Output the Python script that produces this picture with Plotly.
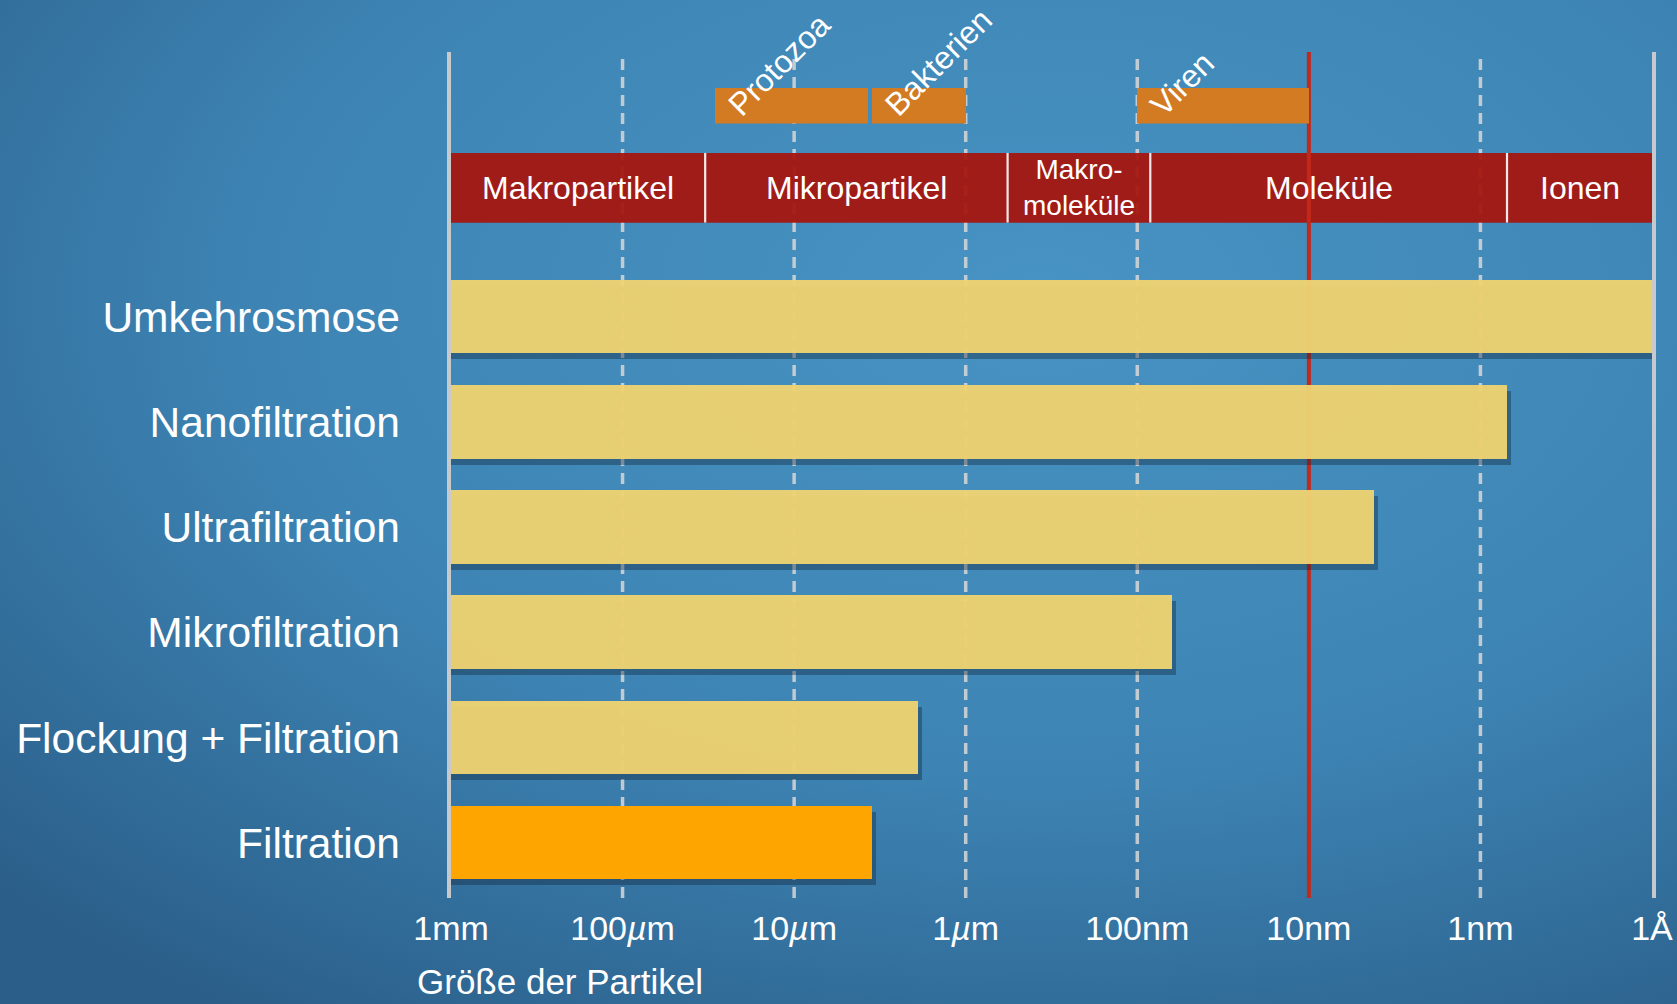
import base64
import numpy as np
import plotly.graph_objects as go

# ---------------- data ----------------
methods = ["Umkehrosmose", "Nanofiltration", "Ultrafiltration",
           "Mikrofiltration", "Flockung + Filtration", "Filtration"]
method_limit_m = [1.0e-10, 7.0e-10, 4.2e-9, 6.3e-8, 1.9e-6, 3.5e-6]
scale_start_m = 1e-3

band_names = ["Makropartikel", "Mikropartikel", "Makro-<br>moleküle", "Moleküle", "Ionen"]
band_from_m = [1e-3, 3.3e-5, 5.7e-7, 8.4e-8, 7.0e-10]
band_to_m = [3.3e-5, 5.7e-7, 8.4e-8, 7.0e-10, 1e-10]

organism_names = ["Protozoa", "Bakterien", "Viren"]
organism_from_m = [2.9e-5, 3.5e-6, 1.0e-7]
organism_to_m = [3.7e-6, 1.0e-6, 1.0e-8]

tick_values_m = [1e-3, 1e-4, 1e-5, 1e-6, 1e-7, 1e-8, 1e-9, 1e-10]
tick_labels = ["1mm", "100<i>µ</i>m", "10<i>µ</i>m", "1<i>µ</i>m",
               "100nm", "10nm", "1nm", "1Å"]
marker_line_m = 1e-8
axis_title = "Größe der Partikel"

# ---------------- layout geometry ----------------
W, H = 1677, 1004
ML, MR, MT, MB = 451, 25, 52, 106
PW, PH = W - ML - MR, H - MT - MB
BOTTOM = H - MB


def dom(top_px, bottom_px):
    return [(BOTTOM - bottom_px) / PH, (BOTTOM - top_px) / PH]


FONT = "Liberation Sans, Arial, Helvetica, sans-serif"
WHITE = "#ffffff"
px_per_decade = PW / (np.log10(tick_values_m[0]) - np.log10(tick_values_m[-1]))

fig = go.Figure()

# gridlines (dashed) on full height axis y
dashed = [v for v in tick_values_m[1:-1] if v != marker_line_m]
gx, gy = [], []
for v in dashed:
    gx += [v, v, None]
    gy += [0, 1, None]
fig.add_trace(go.Scatter(x=gx, y=gy, mode="lines", xaxis="x", yaxis="y",
                         line=dict(color="rgba(215,215,215,0.85)", width=3.5, dash="11px,7px"),
                         hoverinfo="skip", showlegend=False))

# red band of particle classes
fig.add_trace(go.Bar(
    y=[0] * len(band_names),
    x=[t - f for f, t in zip(band_from_m, band_to_m)],
    base=band_from_m, orientation="h", width=1,
    xaxis="x", yaxis="y2",
    marker=dict(color="#a5160f", opacity=0.95, line=dict(width=0)),
    hoverinfo="skip", showlegend=False))
dx, dy = [], []
for b in band_from_m[1:]:
    dx += [b, b, None]
    dy += [-0.5, 0.5, None]
fig.add_trace(go.Scatter(x=dx, y=dy, mode="lines", xaxis="x", yaxis="y2",
                         line=dict(color="rgba(255,255,255,0.9)", width=2.2),
                         hoverinfo="skip", showlegend=False))

# red marker line
fig.add_trace(go.Scatter(x=[marker_line_m, marker_line_m], y=[0, 1], mode="lines",
                         xaxis="x", yaxis="y3",
                         line=dict(color="#c4281b", width=4),
                         hoverinfo="skip", showlegend=False))

# organisms
fig.add_trace(go.Bar(
    y=[0] * len(organism_names),
    x=[t - f for f, t in zip(organism_from_m, organism_to_m)],
    base=organism_from_m, orientation="h", width=1,
    xaxis="x", yaxis="y4",
    marker=dict(color="#d27b22", line=dict(width=0)),
    hoverinfo="skip", showlegend=False))

# main bars: shadow then bars
shift = 10 ** (-4 / px_per_decade)
fig.add_trace(go.Bar(
    y=methods, x=[v * shift - scale_start_m for v in method_limit_m],
    base=scale_start_m, orientation="h", width=0.7, offset=-0.35 - 6 / 105.2,
    xaxis="x", yaxis="y5",
    marker=dict(color="rgba(15,35,55,0.38)", line=dict(width=0)),
    hoverinfo="skip", showlegend=False))
colors = ["#eed271"] * (len(methods) - 1) + ["#ffa500"]
opac = [0.96] * (len(methods) - 1) + [1.0]
fig.add_trace(go.Bar(
    y=methods, x=[v - scale_start_m for v in method_limit_m],
    base=scale_start_m, orientation="h", width=0.7,
    xaxis="x", yaxis="y5",
    marker=dict(color=colors, opacity=opac, line=dict(width=0)),
    hoverinfo="skip", showlegend=False))

# annotations
ann = []
for n, f, t in zip(band_names, band_from_m, band_to_m):
    ann.append(dict(x=(np.log10(f) + np.log10(t)) / 2, y=0, xref="x", yref="y2",
                    text=n, showarrow=False,
                    font=dict(family=FONT, size=28 if "<br>" in n else 32, color=WHITE)))
for n, f in zip(organism_names, organism_from_m):
    ann.append(dict(x=np.log10(f), y=-0.5, xref="x", yref="y4", text=n, showarrow=False,
                    textangle=-45, xanchor="left", yanchor="bottom", xshift=3, yshift=-2,
                    font=dict(family=FONT, size=32, color=WHITE)))
ann.append(dict(x=(415 - ML) / PW, y=(BOTTOM - 982) / PH, xref="paper", yref="paper",
                text=axis_title, showarrow=False, xanchor="left", yanchor="middle",
                font=dict(family=FONT, size=35, color=WHITE)))

svg = (
    "<svg xmlns='http://www.w3.org/2000/svg' width='1677' height='1004' preserveAspectRatio='none'>"
    "<defs><radialGradient id='g' cx='0.62' cy='0.3' r='0.85'>"
    "<stop offset='0' stop-color='#4793c3'/>"
    "<stop offset='0.55' stop-color='#3d84b4'/>"
    "<stop offset='1' stop-color='#2b5f8a'/>"
    "</radialGradient></defs>"
    "<rect width='1677' height='1004' fill='url(#g)'/></svg>"
)
src = "data:image/svg+xml;base64," + base64.b64encode(svg.encode()).decode()

hidden = dict(showgrid=False, zeroline=False, showticklabels=False, ticks="",
              fixedrange=True, anchor="x", automargin=False)

fig.update_layout(
    width=W, height=H, autosize=False,
    margin=dict(l=ML, r=MR, t=MT, b=MB, pad=0, autoexpand=False),
    paper_bgcolor="#3a7fae", plot_bgcolor="rgba(0,0,0,0)",
    barmode="overlay", bargap=0, showlegend=False,
    font=dict(family=FONT, color=WHITE),
    images=[dict(source=src, xref="paper", yref="paper",
                 x=-ML / PW, y=(BOTTOM) / PH, sizex=W / PW, sizey=H / PH,
                 xanchor="left", yanchor="top", sizing="stretch", layer="below")],
    xaxis=dict(type="log", range=[np.log10(tick_values_m[0]), np.log10(tick_values_m[-1])],
               tickvals=tick_values_m, ticktext=tick_labels, showgrid=False,
               zeroline=False, showline=False, ticks="", anchor="y", automargin=False,
               tickfont=dict(family=FONT, size=34, color=WHITE), ticklabelstandoff=7),
    yaxis=dict(domain=[0, 1], range=[0, 1], showgrid=False, zeroline=False,
               showticklabels=False, ticks="", showline=True, mirror=True, automargin=False,
               linecolor="rgba(205,205,205,0.95)", linewidth=3.5, anchor="x"),
    yaxis2=dict(domain=dom(152.7, 222.7), range=[-0.5, 0.5], **hidden),
    yaxis3=dict(domain=[0, 1], range=[0, 1], **hidden),
    yaxis4=dict(domain=dom(87.5, 123.5), range=[-0.5, 0.5], **hidden),
    yaxis5=dict(domain=dom(264.4, 895.6), range=[-0.5, len(methods) - 0.5],
                categoryorder="array", categoryarray=methods[::-1], automargin=False,
                showgrid=False, zeroline=False, ticks="", anchor="x",
                tickfont=dict(family=FONT, size=42.5, color=WHITE), ticklabelstandoff=50),
    annotations=ann,
)

fig.write_html("out.html")
